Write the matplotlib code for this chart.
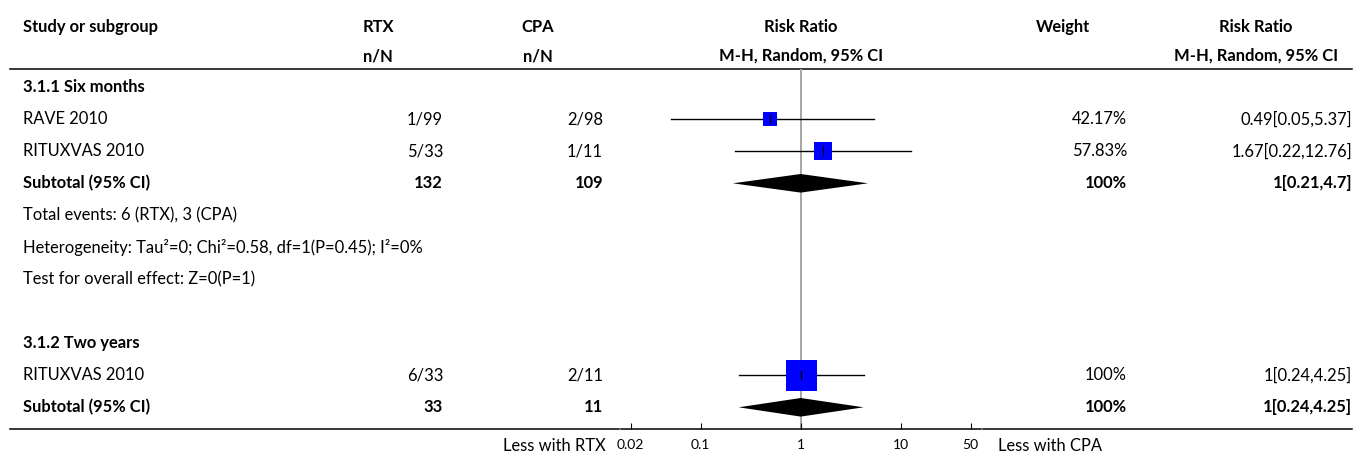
import matplotlib
matplotlib.use("Agg")
import matplotlib.pyplot as plt
import numpy as np

plt.rcParams['font.family'] = ['Lato', 'DejaVu Sans']

# study-level data
study_names = ["RAVE 2010", "RITUXVAS 2010", "RITUXVAS 2010"]
rtx_events = [1, 5, 6]
rtx_total = [99, 33, 33]
cpa_events = [2, 1, 2]
cpa_total = [98, 11, 11]
study_weight = [42.17, 57.83, 100]
study_rr = [0.49, 1.67, 1]
study_lo = [0.05, 0.22, 0.24]
study_hi = [5.37, 12.76, 4.25]
study_rows = [1, 2, 9]

# subgroup pooled estimates
group_titles = ["3.1.1 Six months", "3.1.2 Two years"]
group_title_rows = [0, 8]
sub_rtx_total = [132, 33]
sub_cpa_total = [109, 11]
sub_weight = [100, 100]
sub_rr = [1, 1]
sub_lo = [0.21, 0.24]
sub_hi = [4.7, 4.25]
sub_rows = [3, 10]

notes = ["Total events: 6 (RTX), 3 (CPA)",
         "Heterogeneity: Tau\u00b2=0; Chi\u00b2=0.58, df=1(P=0.45); I\u00b2=0%",
         "Test for overall effect: Z=0(P=1)"]
note_rows = [4, 5, 6]

x_ticks = [0.02, 0.1, 1, 10, 50]
x_ticklabels = ["0.02", "0.1", "1", "10", "50"]

W, H = 1358, 455
FS = 11.9
ROW0, ROWH = 87.3, 32.0


def row_y(r):
    return ROW0 + ROWH * r


def fmt_ci(rr, lo, hi):
    return "%g[%g,%g]" % (rr, lo, hi)


fig = plt.figure(figsize=(W / 100, H / 100), dpi=100, facecolor="white")

# text layer in pixel coordinates
bg = fig.add_axes([0, 0, 1, 1])
bg.set_xlim(0, W)
bg.set_ylim(H, 0)
bg.axis("off")

X_NAME, X_RTX, X_CPA, X_WT, X_RR = 23, 443, 603, 1127, 1352

head = dict(fontsize=FS, fontweight="bold", va="center")
bg.text(X_NAME, 27, "Study or subgroup", ha="left", **head)
bg.text(378, 27, "RTX", ha="center", **head)
bg.text(378, 56, "n/N", ha="center", **head)
bg.text(538, 27, "CPA", ha="center", **head)
bg.text(538, 56, "n/N", ha="center", **head)
bg.text(801, 27, "Risk Ratio", ha="center", **head)
bg.text(801, 56, "M-H, Random, 95% CI", ha="center", **head)
bg.text(1063, 27, "Weight", ha="center", **head)
bg.text(1256, 27, "Risk Ratio", ha="center", **head)
bg.text(1256, 56, "M-H, Random, 95% CI", ha="center", **head)

bg.plot([10, 1352], [69, 69], color="black", lw=1.1)
bg.plot([10, 619], [429, 429], color="black", lw=1.1)
bg.plot([983, 1352], [429, 429], color="black", lw=1.1)

for title, r in zip(group_titles, group_title_rows):
    bg.text(X_NAME, row_y(r), title, ha="left", **head)

for i, r in enumerate(study_rows):
    y = row_y(r)
    bg.text(X_NAME, y, study_names[i], ha="left", va="center", fontsize=FS)
    bg.text(X_RTX, y, "%d/%d" % (rtx_events[i], rtx_total[i]), ha="right", va="center", fontsize=FS)
    bg.text(X_CPA, y, "%d/%d" % (cpa_events[i], cpa_total[i]), ha="right", va="center", fontsize=FS)
    bg.text(X_WT, y, "%g%%" % study_weight[i], ha="right", va="center", fontsize=FS)
    bg.text(X_RR, y, fmt_ci(study_rr[i], study_lo[i], study_hi[i]), ha="right", va="center", fontsize=FS)

for i, r in enumerate(sub_rows):
    y = row_y(r)
    bg.text(X_NAME, y, "Subtotal (95% CI)", ha="left", **head)
    bg.text(X_RTX, y, str(sub_rtx_total[i]), ha="right", **head)
    bg.text(X_CPA, y, str(sub_cpa_total[i]), ha="right", **head)
    bg.text(X_WT, y, "%g%%" % sub_weight[i], ha="right", **head)
    bg.text(X_RR, y, fmt_ci(sub_rr[i], sub_lo[i], sub_hi[i]), ha="right", **head)

for txt, r in zip(notes, note_rows):
    bg.text(X_NAME, row_y(r), txt, ha="left", va="center", fontsize=FS)

bg.text(606, 446, "Less with RTX", ha="right", va="center", fontsize=FS)
bg.text(998, 446, "Less with CPA", ha="left", va="center", fontsize=FS)

# forest panel: log scale, 100 px per decade, centred on 1 at x=800.7
LX0, LX1 = 620.7, 980.7
TOP, BOT = 69, 429
ax = fig.add_axes([LX0 / W, (H - BOT) / H, (LX1 - LX0) / W, (BOT - TOP) / H])
ax.set_facecolor("none")
ax.set_xscale("log")
ax.set_xlim(10 ** -1.8, 10 ** 1.8)
ax.set_ylim((BOT - ROW0) / ROWH, (TOP - ROW0) / ROWH)
for s in ["top", "left", "right"]:
    ax.spines[s].set_visible(False)
ax.spines["bottom"].set_linewidth(1.1)
ax.set_yticks([])
ax.set_xticks(x_ticks)
ax.set_xticklabels(x_ticklabels)
ax.xaxis.set_minor_locator(matplotlib.ticker.NullLocator())
ax.tick_params(axis="x", direction="in", length=4, width=0.8, pad=7, labelsize=10)

ax.axvline(1, color="#a6a6a6", lw=1.4, zorder=1)

px_row = 1.0 / ROWH
for i, r in enumerate(study_rows):
    ax.plot([study_lo[i], study_hi[i]], [r, r], color="black", lw=1.0, zorder=2)
    side = 0.31 * study_weight[i]  # px
    ax.scatter([study_rr[i]], [r], marker="s", s=(side * 0.72) ** 2,
               color="#0000ff", linewidths=0, zorder=3)
    ax.plot([study_rr[i], study_rr[i]], [r - 4 * px_row, r + 4 * px_row],
            color="black", lw=0.9, zorder=4)

half_h = 9.3 * px_row
for i, r in enumerate(sub_rows):
    ax.fill([sub_lo[i], sub_rr[i], sub_hi[i], sub_rr[i]],
            [r, r - half_h, r, r + half_h], color="black", lw=0, zorder=3)

fig.savefig("out.png", dpi=100, facecolor="white")
